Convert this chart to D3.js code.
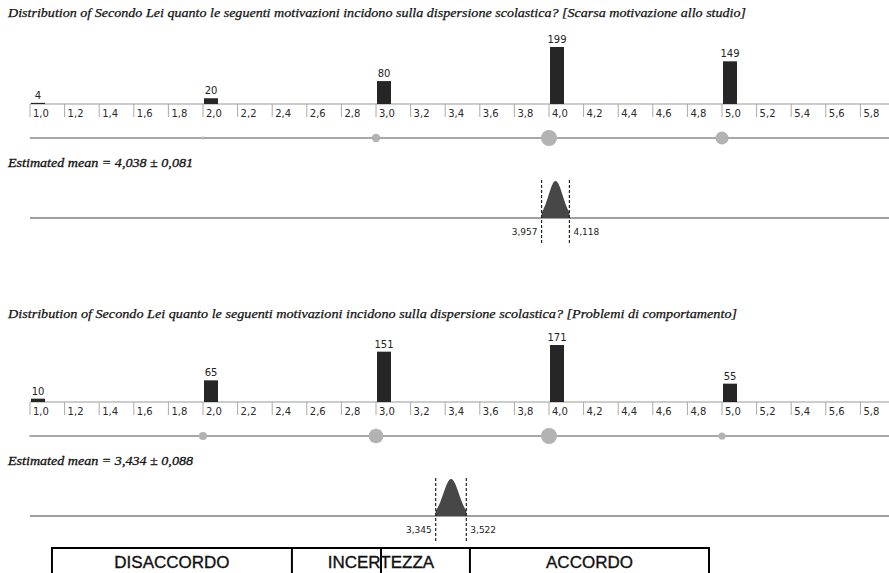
<!DOCTYPE html>
<html><head><meta charset="utf-8">
<script src="https://cdn.jsdelivr.net/npm/d3@7/dist/d3.min.js"></script>
<style>body{margin:0;background:#fff}svg{display:block}</style>
</head><body>
<svg id="c" width="889" height="573"></svg>
<script>
const categories = [1, 2, 3, 4, 5];
const tickValues = [1.0,1.2,1.4,1.6,1.8,2.0,2.2,2.4,2.6,2.8,3.0,3.2,3.4,3.6,3.8,4.0,4.2,4.4,4.6,4.8,5.0,5.2,5.4,5.6,5.8];
const tickLabels = ["1,0","1,2","1,4","1,6","1,8","2,0","2,2","2,4","2,6","2,8","3,0","3,2","3,4","3,6","3,8","4,0","4,2","4,4","4,6","4,8","5,0","5,2","5,4","5,6","5,8"];
const countsMotivazione = [4, 20, 80, 199, 149];
const countsComportamento = [10, 65, 151, 171, 55];
const titles = [
  "Distribution of Secondo Lei quanto le seguenti motivazioni incidono sulla dispersione scolastica? [Scarsa motivazione allo studio]",
  "Distribution of Secondo Lei quanto le seguenti motivazioni incidono sulla dispersione scolastica? [Problemi di comportamento]"
];
const means = [4.038, 3.434];
const errors = [0.081, 0.088];
const ciLow = [3.957, 3.345];
const ciHigh = [4.118, 3.522];
const ciLowLabels = ["3,957", "3,345"];
const ciHighLabels = ["4,118", "3,522"];
const meanLabels = ["Estimated mean = 4,038 ± 0,081", "Estimated mean = 3,434 ± 0,088"];
const zoneLabels = ["DISACCORDO", "INCERTEZZA", "ACCORDO"];
const zoneBounds = [1.127, 2.514, 3.543, 4.925];
const zoneMid = 3.029;

const W = 889;
const svg = d3.select("#c");
const x = d3.scaleLinear().domain([1, 5.8]).range([30, 860.4]);

const panels = [
  {counts: countsMotivazione, titleY: 17, axisY: 104, dotY: 138, meanY: 167, densY: 218},
  {counts: countsComportamento, titleY: 318, axisY: 402, dotY: 436, meanY: 465, densY: 516}
];

panels.forEach((p, i) => {
  const g = svg.append("g");
  const t = g.append("text").attr("x", 8).attr("y", p.titleY)
    .attr("font-family", "Liberation Serif, Times New Roman, serif")
    .attr("font-style", "italic").attr("font-size", 13).attr("fill", "#111")
    .attr("stroke", "#111").attr("stroke-width", 0.25)
    .text(titles[i]);
  const targetW = i === 0 ? 738 : 729;
  t.attr("textLength", targetW).attr("lengthAdjust", "spacingAndGlyphs");

  const maxC = d3.max(p.counts);
  const h = d3.scaleLinear().domain([0, maxC]).range([0, 57]);
  const r = d3.scalePow().exponent(0.7).domain([0, maxC]).range([0, 8]);

  // axis baseline
  g.append("line").attr("x1", x(1)).attr("x2", W).attr("y1", p.axisY).attr("y2", p.axisY)
    .attr("stroke", "#9a9a9a").attr("stroke-width", 1.2);
  // ticks
  const tk = g.selectAll(".tk").data(tickValues).enter().append("g");
  tk.append("line").attr("x1", d => x(d)).attr("x2", d => x(d))
    .attr("y1", p.axisY).attr("y2", p.axisY + 13).attr("stroke", "#aaa").attr("stroke-width", 1);
  tk.append("text").attr("x", d => x(d) + 3).attr("y", p.axisY + 13)
    .attr("font-family", "DejaVu Sans, Verdana, sans-serif").attr("font-size", 10)
    .attr("fill", "#2a2a2a").text((d, j) => tickLabels[j]);

  // bars
  g.selectAll(".bar").data(categories).enter().append("rect")
    .attr("x", d => x(d) + 1).attr("width", 14)
    .attr("y", (d, j) => p.axisY - h(p.counts[j]))
    .attr("height", (d, j) => h(p.counts[j]))
    .attr("fill", "#262626");
  g.selectAll(".bl").data(categories).enter().append("text")
    .attr("x", d => x(d) + 8).attr("y", (d, j) => p.axisY - h(p.counts[j]) - 4)
    .attr("text-anchor", "middle")
    .attr("font-family", "DejaVu Sans, Verdana, sans-serif").attr("font-size", 10)
    .attr("fill", "#222").text((d, j) => p.counts[j]);

  // dot row
  g.append("line").attr("x1", x(1)).attr("x2", W).attr("y1", p.dotY).attr("y2", p.dotY)
    .attr("stroke", "#8a8a8a").attr("stroke-width", 1.3);
  g.selectAll(".dot").data(categories).enter().append("circle")
    .attr("cx", d => x(d)).attr("cy", p.dotY)
    .attr("r", (d, j) => r(p.counts[j]))
    .attr("fill", "#b3b3b3");

  // mean label
  g.append("text").attr("x", 8).attr("y", p.meanY)
    .attr("font-family", "Liberation Serif, Times New Roman, serif")
    .attr("font-style", "italic").attr("font-size", 13)
    .attr("fill", "#111").attr("stroke", "#111").attr("stroke-width", 0.3)
    .attr("textLength", 185).attr("lengthAdjust", "spacingAndGlyphs")
    .text(meanLabels[i]);

  // density baseline
  g.append("line").attr("x1", x(1)).attr("x2", W).attr("y1", p.densY).attr("y2", p.densY)
    .attr("stroke", "#a0a0a0").attr("stroke-width", 2);

  // density curve (normal, sd = err/1.96) clipped to CI
  const sd = errors[i] / 1.96;
  const pts = d3.range(0, 61).map(k => ciLow[i] + (ciHigh[i] - ciLow[i]) * k / 60);
  const pdf = v => Math.exp(-0.5 * Math.pow((v - means[i]) / sd, 2));
  const yD = d3.scaleLinear().domain([0, 1]).range([p.densY, p.densY - 37]);
  const area = d3.area().x(v => x(v)).y0(p.densY).y1(v => yD(pdf(v))).curve(d3.curveBasis);
  g.append("path").datum(pts).attr("d", area).attr("fill", "#474747");

  // CI dashed lines
  [ciLow[i], ciHigh[i]].forEach(v => {
    g.append("line").attr("x1", x(v)).attr("x2", x(v))
      .attr("y1", p.densY - 38).attr("y2", p.densY + 27)
      .attr("stroke", "#222").attr("stroke-width", 1.2).attr("stroke-dasharray", "3,2");
  });
  g.append("text").attr("x", x(ciLow[i]) - 4).attr("y", p.densY + 17)
    .attr("text-anchor", "end").attr("font-family", "DejaVu Sans, Verdana, sans-serif")
    .attr("font-size", 9).attr("fill", "#222").text(ciLowLabels[i]);
  g.append("text").attr("x", x(ciHigh[i]) + 4).attr("y", p.densY + 17)
    .attr("font-family", "DejaVu Sans, Verdana, sans-serif")
    .attr("font-size", 9).attr("fill", "#222").text(ciHighLabels[i]);
});

// zone box
const bx0 = x(zoneBounds[0]), bx3 = x(zoneBounds[3]);
const boxTop = 548;
const gb = svg.append("g");
gb.append("line").attr("x1", bx0 - 1).attr("x2", bx3 + 1).attr("y1", boxTop).attr("y2", boxTop)
  .attr("stroke", "#000").attr("stroke-width", 2);
[zoneBounds[0], zoneBounds[1], zoneMid, zoneBounds[2], zoneBounds[3]].forEach(v => {
  gb.append("line").attr("x1", x(v)).attr("x2", x(v)).attr("y1", boxTop).attr("y2", 580)
    .attr("stroke", "#000").attr("stroke-width", 2);
});
zoneLabels.forEach((lab, k) => {
  gb.append("text").attr("x", (x(zoneBounds[k]) + x(zoneBounds[k + 1])) / 2).attr("y", 568)
    .attr("text-anchor", "middle").attr("font-family", "Liberation Sans, Arial, sans-serif")
    .attr("font-size", 17).attr("fill", "#111").attr("stroke", "#111").attr("stroke-width", 0.35)
    .text(lab);
});
</script>
</body></html>
